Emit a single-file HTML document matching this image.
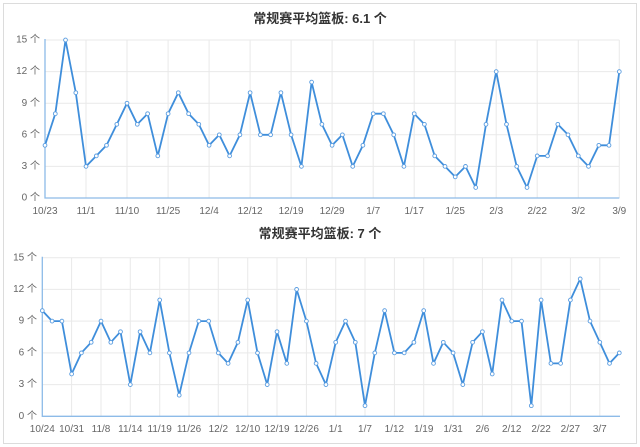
<!DOCTYPE html>
<html><head><meta charset="utf-8"><style>
html,body{margin:0;padding:0;background:#fff;}
svg{display:block;}
text{font-family:"Liberation Sans","Noto Sans CJK SC",sans-serif;}
.t{font-size:13px;font-weight:bold;fill:#333;text-anchor:middle;}
.yl{font-size:10px;fill:#666;text-anchor:end;dominant-baseline:middle;}
.xl{font-size:10px;fill:#666;text-anchor:middle;}
.g{stroke:#e9e9e9;stroke-width:1;fill:none;}
.ax{stroke:#8dbbe8;stroke-width:1.3;fill:none;}
.ln{stroke:#3f8edb;stroke-width:1.8;fill:none;stroke-linejoin:round;marker-start:url(#m);marker-mid:url(#m);marker-end:url(#m);}
</style></head><body>
<svg width="640" height="447" viewBox="0 0 640 447" xmlns="http://www.w3.org/2000/svg">
<defs>
<marker id="m" markerWidth="6" markerHeight="6" refX="3" refY="3" markerUnits="userSpaceOnUse"><circle cx="3" cy="3" r="1.9" fill="#fff" stroke="#5b9de0" stroke-width="0.9"/></marker>
</defs>
<rect x="3.5" y="3.5" width="633" height="440" fill="#fff" stroke="#dcdcdc" stroke-width="1"/>

<!-- TOP CHART -->
<text class="t" x="320" y="23">常规赛平均篮板: 6.1 个</text>
<g class="g">
<path d="M45 40H619.3M45 71.6H619.3M45 103.2H619.3M45 134.8H619.3M45 166.4H619.3"/>
<path d="M86 40V198M127 40V198M168.1 40V198M209.1 40V198M250.1 40V198M291.1 40V198M332.1 40V198M373.2 40V198M414.2 40V198M455.2 40V198M496.2 40V198M537.2 40V198M578.3 40V198M619.3 40V198"/>
</g>
<path class="ax" d="M45 39V198H619.3"/>
<text class="yl" x="40" y="40">15 个</text>
<text class="yl" x="40" y="71.6">12 个</text>
<text class="yl" x="40" y="103.2">9 个</text>
<text class="yl" x="40" y="134.8">6 个</text>
<text class="yl" x="40" y="166.4">3 个</text>
<text class="yl" x="40" y="198">0 个</text>
<g class="xl">
<text class="xl" x="45" y="214">10/23</text>
<text class="xl" x="86" y="214">11/1</text>
<text class="xl" x="127" y="214">11/10</text>
<text class="xl" x="168.1" y="214">11/25</text>
<text class="xl" x="209.1" y="214">12/4</text>
<text class="xl" x="250.1" y="214">12/12</text>
<text class="xl" x="291.1" y="214">12/19</text>
<text class="xl" x="332.1" y="214">12/29</text>
<text class="xl" x="373.2" y="214">1/7</text>
<text class="xl" x="414.2" y="214">1/17</text>
<text class="xl" x="455.2" y="214">1/25</text>
<text class="xl" x="496.2" y="214">2/3</text>
<text class="xl" x="537.2" y="214">2/22</text>
<text class="xl" x="578.3" y="214">3/2</text>
<text class="xl" x="619.3" y="214">3/9</text>
</g>
<polyline class="ln" points="45,145.3 55.3,113.7 65.5,40 75.8,92.7 86,166.4 96.3,155.9 106.5,145.3 116.8,124.3 127,103.2 137.3,124.3 147.6,113.7 157.8,155.9 168.1,113.7 178.3,92.7 188.6,113.7 198.8,124.3 209.1,145.3 219.3,134.8 229.6,155.9 239.9,134.8 250.1,92.7 260.4,134.8 270.6,134.8 280.9,92.7 291.1,134.8 301.4,166.4 311.6,82.1 321.9,124.3 332.1,145.3 342.4,134.8 352.7,166.4 362.9,145.3 373.2,113.7 383.4,113.7 393.7,134.8 403.9,166.4 414.2,113.7 424.4,124.3 434.7,155.9 445,166.4 455.2,176.9 465.5,166.4 475.7,187.5 486,124.3 496.2,71.6 506.5,124.3 516.7,166.4 527,187.5 537.2,155.9 547.5,155.9 557.8,124.3 568,134.8 578.3,155.9 588.5,166.4 598.8,145.3 609,145.3 619.3,71.6"/>

<!-- BOTTOM CHART -->
<text class="t" x="320" y="238">常规赛平均篮板: 7 个</text>
<g class="g">
<path d="M42.3 257.7H620M42.3 289.4H620M42.3 321.1H620M42.3 352.9H620M42.3 384.6H620"/>
<path d="M71.6 257.7V416.3M101 257.7V416.3M130.3 257.7V416.3M159.7 257.7V416.3M189 257.7V416.3M218.3 257.7V416.3M247.7 257.7V416.3M277 257.7V416.3M306.4 257.7V416.3M335.7 257.7V416.3M365 257.7V416.3M394.4 257.7V416.3M423.7 257.7V416.3M453.1 257.7V416.3M482.4 257.7V416.3M511.7 257.7V416.3M541.1 257.7V416.3M570.4 257.7V416.3M599.8 257.7V416.3"/>
</g>
<path class="ax" d="M42.3 256.7V416.3H620"/>
<text class="yl" x="37" y="257.7">15 个</text>
<text class="yl" x="37" y="289.4">12 个</text>
<text class="yl" x="37" y="321.1">9 个</text>
<text class="yl" x="37" y="352.9">6 个</text>
<text class="yl" x="37" y="384.6">3 个</text>
<text class="yl" x="37" y="416.3">0 个</text>
<text class="xl" x="42.3" y="432">10/24</text>
<text class="xl" x="71.6" y="432">10/31</text>
<text class="xl" x="101" y="432">11/8</text>
<text class="xl" x="130.3" y="432">11/14</text>
<text class="xl" x="159.7" y="432">11/19</text>
<text class="xl" x="189" y="432">11/26</text>
<text class="xl" x="218.3" y="432">12/2</text>
<text class="xl" x="247.7" y="432">12/10</text>
<text class="xl" x="277" y="432">12/19</text>
<text class="xl" x="306.4" y="432">12/26</text>
<text class="xl" x="335.7" y="432">1/1</text>
<text class="xl" x="365" y="432">1/7</text>
<text class="xl" x="394.4" y="432">1/12</text>
<text class="xl" x="423.7" y="432">1/19</text>
<text class="xl" x="453.1" y="432">1/31</text>
<text class="xl" x="482.4" y="432">2/6</text>
<text class="xl" x="511.7" y="432">2/12</text>
<text class="xl" x="541.1" y="432">2/22</text>
<text class="xl" x="570.4" y="432">2/27</text>
<text class="xl" x="599.8" y="432">3/7</text>
<polyline class="ln" points="42.3,310.6 52.1,321.1 61.9,321.1 71.6,374 81.4,352.9 91.2,342.3 101,321.1 110.8,342.3 120.5,331.7 130.3,384.6 140.1,331.7 149.9,352.9 159.7,300 169.4,352.9 179.2,395.2 189,352.9 198.8,321.1 208.6,321.1 218.3,352.9 228.1,363.4 237.9,342.3 247.7,300 257.5,352.9 267.2,384.6 277,331.7 286.8,363.4 296.6,289.4 306.4,321.1 316.1,363.4 325.9,384.6 335.7,342.3 345.5,321.1 355.3,342.3 365,405.7 374.8,352.9 384.6,310.6 394.4,352.9 404.2,352.9 413.9,342.3 423.7,310.6 433.5,363.4 443.3,342.3 453.1,352.9 462.8,384.6 472.6,342.3 482.4,331.7 492.2,374 502,300 511.7,321.1 521.5,321.1 531.3,405.7 541.1,300 550.9,363.4 560.6,363.4 570.4,300 580.2,278.9 590,321.1 599.8,342.3 609.5,363.4 619.3,352.9"/>
</svg>
</body></html>
